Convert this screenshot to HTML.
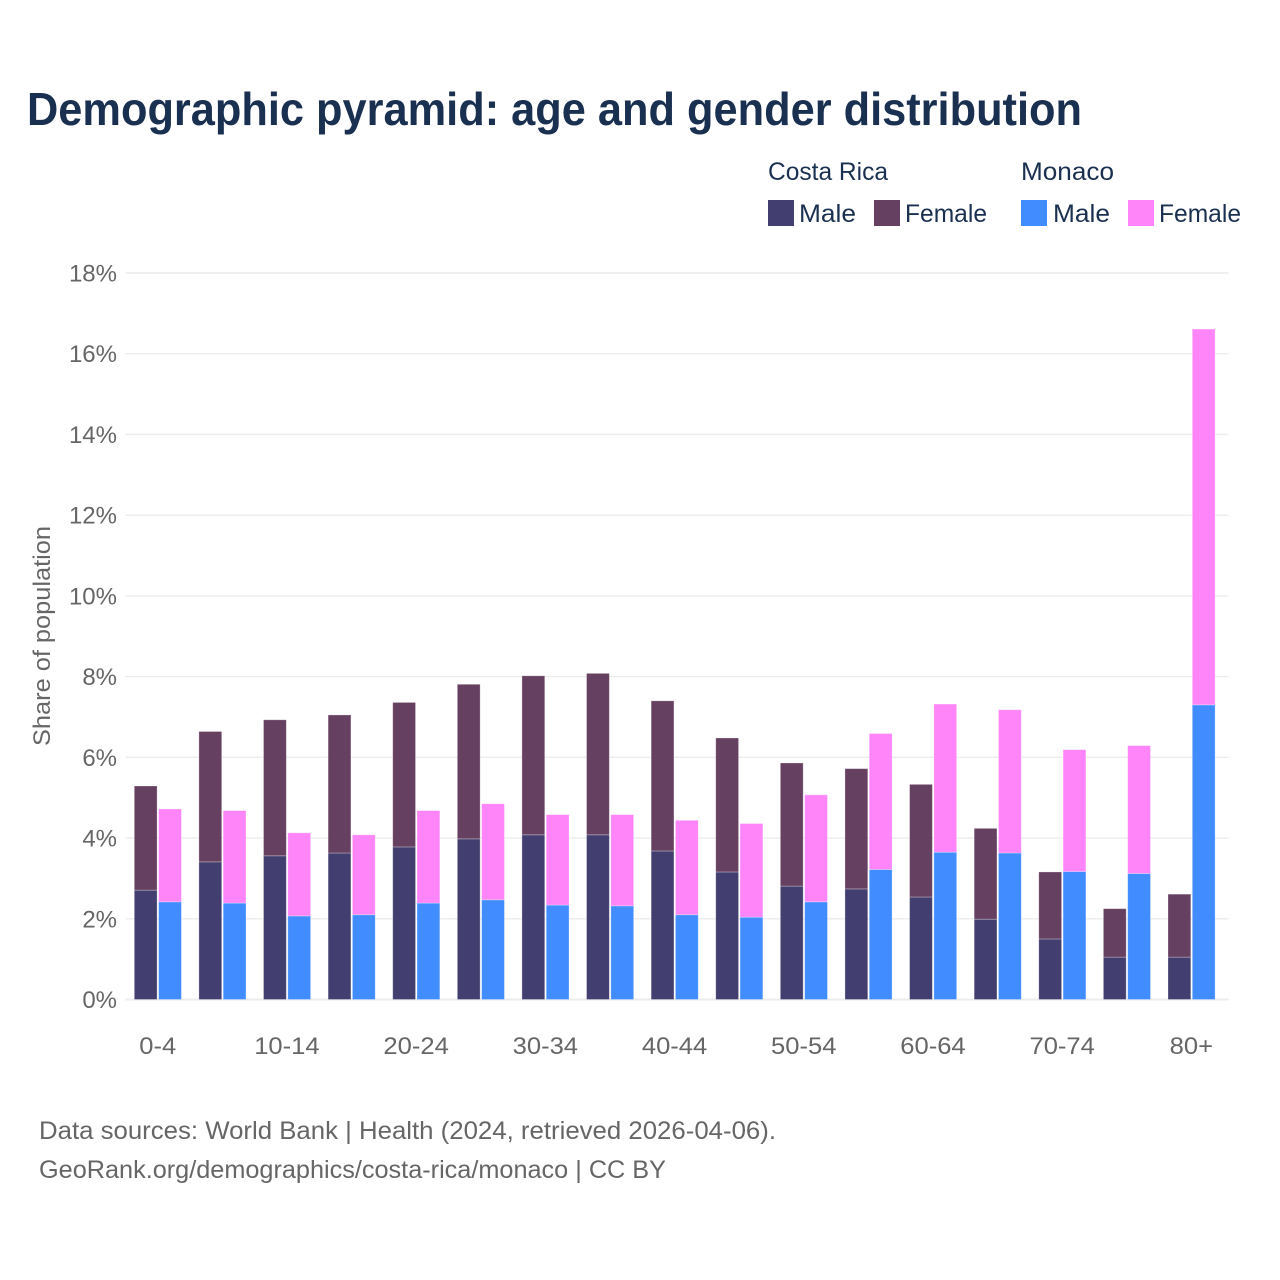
<!DOCTYPE html>
<html lang="en">
<head>
<meta charset="utf-8">
<title>Demographic pyramid</title>
<style>
html,body{margin:0;padding:0;background:#fff}
svg{display:block}
text{font-family:"Liberation Sans",sans-serif}
</style>
</head>
<body>
<svg id="chart" xmlns="http://www.w3.org/2000/svg" width="1280" height="1280" viewBox="0 0 1280 1280">
  <rect width="1280" height="1280" fill="#fff"/>
  <text x="27" y="125" font-size="46" font-weight="700" fill="#1a3050" textLength="1055" lengthAdjust="spacingAndGlyphs">Demographic pyramid: age and gender distribution</text>

  <g font-size="25" fill="#1a3050">
    <text x="768" y="180" textLength="120" lengthAdjust="spacingAndGlyphs">Costa Rica</text>
    <text x="1021" y="180" textLength="93" lengthAdjust="spacingAndGlyphs">Monaco</text>
    <rect x="768" y="200" width="26" height="26" fill="#423e6f"/>
    <text x="799" y="222" textLength="57" lengthAdjust="spacingAndGlyphs">Male</text>
    <rect x="874" y="200" width="26" height="26" fill="#664060"/>
    <text x="905" y="222" textLength="82" lengthAdjust="spacingAndGlyphs">Female</text>
    <rect x="1021" y="200" width="26" height="26" fill="#418cff"/>
    <text x="1053" y="222" textLength="57" lengthAdjust="spacingAndGlyphs">Male</text>
    <rect x="1128" y="200" width="26" height="26" fill="#ff85f8"/>
    <text x="1159" y="222" textLength="82" lengthAdjust="spacingAndGlyphs">Female</text>
  </g>

  <g id="grid"></g>
  <g id="yticks"></g>
  <g id="bars"></g>
  <g id="xticks"></g>

  <text transform="translate(50 636) rotate(-90)" text-anchor="middle" font-size="24" fill="#666" textLength="220" lengthAdjust="spacingAndGlyphs">Share of population</text>

  <text x="39" y="1139" font-size="25" fill="#666" textLength="737" lengthAdjust="spacingAndGlyphs">Data sources: World Bank | Health (2024, retrieved 2026-04-06).</text>
  <text x="39" y="1178" font-size="25" fill="#666" textLength="627" lengthAdjust="spacingAndGlyphs">GeoRank.org/demographics/costa-rica/monaco | CC BY</text>
</svg>
<script>
const categories = ["0-4","5-9","10-14","15-19","20-24","25-29","30-34","35-39","40-44","45-49","50-54","55-59","60-64","65-69","70-74","75-79","80+"];
const crMale =   [2.71,3.41,3.56,3.63,3.78,3.98,4.08,4.08,3.68,3.16,2.81,2.74,2.54,1.99,1.50,1.05,1.05];
const crFemale = [2.58,3.23,3.37,3.42,3.58,3.83,3.94,4.00,3.72,3.32,3.05,2.98,2.79,2.25,1.66,1.20,1.56];
const moMale =   [2.42,2.39,2.07,2.10,2.39,2.47,2.34,2.32,2.10,2.04,2.42,3.22,3.65,3.63,3.17,3.12,7.30];
const moFemale = [2.30,2.29,2.06,1.98,2.29,2.38,2.24,2.26,2.34,2.32,2.65,3.37,3.67,3.55,3.02,3.17,9.31];
const yTicks = [0,2,4,6,8,10,12,14,16,18];
const xLabelEvery = 2;

const NS = "http://www.w3.org/2000/svg";
const gridLeft = 125.5, gridRight = 1228.5, plotBottom = 999.5, plotTop = 273;
const bandLeft = 125.4, bandRight = 1223.7;
const yScale = v => plotBottom - (v / 18) * (plotBottom - plotTop);
const xCenter = i => bandLeft + (i + 0.5) * (bandRight - bandLeft) / categories.length;
const barWidth = 22.8;

function make(tag, attrs, parent) {
  const el = document.createElementNS(NS, tag);
  for (const k in attrs) el.setAttribute(k, attrs[k]);
  parent.appendChild(el);
  return el;
}
function drawSegment(parent, x, v0, v1, fill, name) {
  const y0 = yScale(v0), y1 = yScale(v1);
  const r = make("rect", {x: x, y: y1, width: barWidth, height: y0 - y1, fill: fill, stroke: "#fff", "stroke-opacity": 0.35, "stroke-width": 0.8}, parent);
  
  
}

const gridG = document.getElementById("grid");
const yTickG = document.getElementById("yticks");
yTicks.forEach(t => {
  const y = yScale(t);
  const line = make("line", {x1: gridLeft, x2: gridRight, y1: y, y2: y, stroke: "#ececec", "stroke-width": t === 0 ? 2 : 1.4}, gridG);
  
  
  const label = make("text", {x: 117, y: y + 8.5, "text-anchor": "end", "font-size": 24, fill: "#666"}, yTickG);
  label.textContent = t + "%";
  
  
});

const barsG = document.getElementById("bars");
categories.forEach((c, i) => {
  const cx = xCenter(i);
  const g = make("g", {}, barsG);
  
  
  const xA = cx - 23.4, xB = cx + 0.9;
  drawSegment(g, xA, 0, crMale[i], "#423e6f", "bar-costa-rica-male");
  drawSegment(g, xA, crMale[i], crMale[i] + crFemale[i], "#664060", "bar-costa-rica-female");
  drawSegment(g, xB, 0, moMale[i], "#418cff", "bar-monaco-male");
  drawSegment(g, xB, moMale[i], moMale[i] + moFemale[i], "#ff85f8", "bar-monaco-female");
});

const xTickG = document.getElementById("xticks");
categories.forEach((c, i) => {
  if (i % xLabelEvery !== 0) return;
  const label = make("text", {x: xCenter(i), y: 1054, "text-anchor": "middle", "font-size": 24, fill: "#666"}, xTickG);
  label.textContent = c;
  
  
  label.setAttribute('lengthAdjust', 'spacingAndGlyphs');
  label.setAttribute('textLength', (label.getComputedTextLength() * 1.065).toFixed(1));
});
</script>
</body>
</html>
